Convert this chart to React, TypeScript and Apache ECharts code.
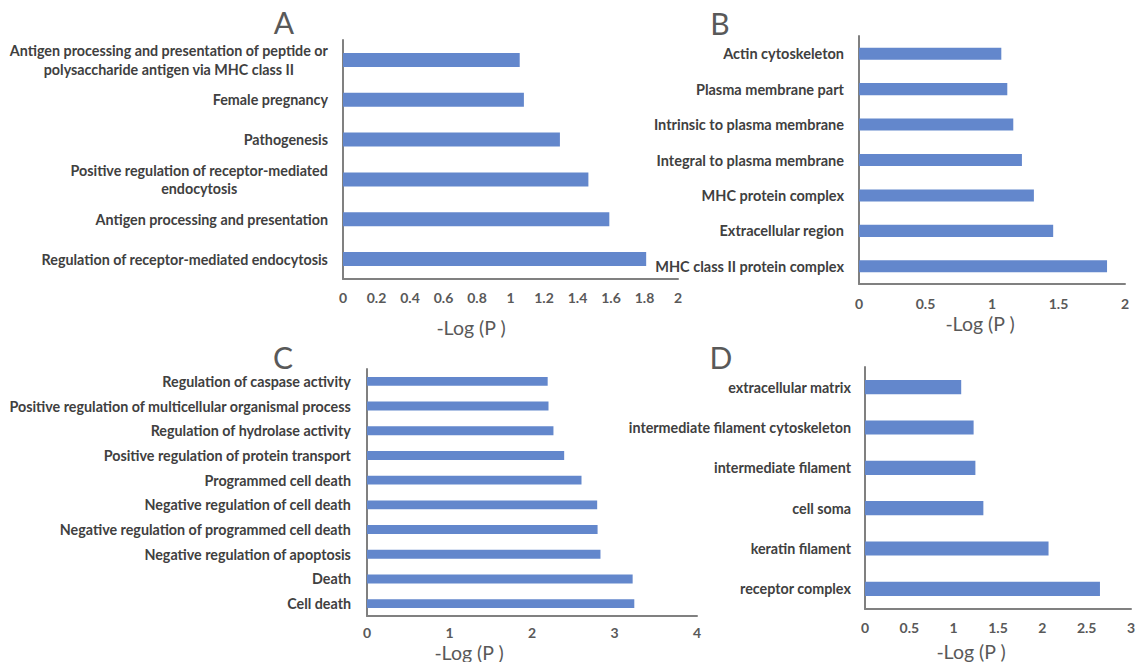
import React, { useEffect, useRef } from "react";
import * as echarts from "echarts";

const catsA = [
  "Antigen processing and presentation of peptide or\npolysaccharide antigen via MHC class II",
  "Female pregnancy",
  "Pathogenesis",
  "Positive regulation of receptor-mediated\nendocytosis",
  "Antigen processing and presentation",
  "Regulation of receptor-mediated endocytosis",
];
const valsA = [1.055, 1.08, 1.295, 1.465, 1.59, 1.81];

const catsB = [
  "Actin cytoskeleton",
  "Plasma membrane part",
  "Intrinsic to plasma membrane",
  "Integral to plasma membrane",
  "MHC protein complex",
  "Extracellular region",
  "MHC class II protein complex",
];
const valsB = [1.07, 1.115, 1.16, 1.225, 1.315, 1.46, 1.865];

const catsC = [
  "Regulation of caspase activity",
  "Positive regulation of multicellular organismal process",
  "Regulation of hydrolase activity",
  "Positive regulation of protein transport",
  "Programmed cell death",
  "Negative regulation of cell death",
  "Negative regulation of programmed cell death",
  "Negative regulation of apoptosis",
  "Death",
  "Cell death",
];
const valsC = [2.19, 2.2, 2.26, 2.39, 2.6, 2.79, 2.795, 2.83, 3.22, 3.24];

const catsD = [
  "extracellular matrix",
  "intermediate filament cytoskeleton",
  "intermediate filament",
  "cell soma",
  "keratin filament",
  "receptor complex",
];
const valsD = [1.085, 1.225, 1.245, 1.335, 2.07, 2.65];

const axisTitle = "-Log (P )";
const panelLetters = ["A", "B", "C", "D"];

const FONT = "Lato, 'Open Sans', sans-serif";
const BAR = "#6387cc";
const AXIS = "#808080";
const TEXT = "#404040";

export default function App() {
  const ref = useRef<HTMLDivElement>(null);
  useEffect(() => {
    if (!ref.current) return;
    const chart = echarts.init(ref.current, null, { renderer: "svg" });

    const grids = [
      { left: 343, top: 40, width: 335, height: 239 },
      { left: 859, top: 36, width: 266, height: 248 },
      { left: 367, top: 369, width: 330, height: 247 },
      { left: 865, top: 367, width: 266, height: 242 },
    ];
    const cats = [catsA, catsB, catsC, catsD];
    const vals = [valsA, valsB, valsC, valsD];
    const maxes = [2, 2, 4, 3];
    const intervals = [0.2, 0.5, 1, 0.5];
    const labelSizes = [14.3, 14.5, 14.3, 14.3];
    const barWidths = ["35%", "34%", "36%", "35%"];
    const labelMargins = [15, 15, 16, 14];
    const tickMargins = [11, 12, 9, 11];

    const mkRich = (i: number) => ({
      c: {
        align: "center",
        fontFamily: FONT,
        fontWeight: "bold",
        fontSize: labelSizes[i],
        color: TEXT,
        lineHeight: 18.5,
      },
    });

    const option: any = {
      animation: false,
      grid: grids.map((g) => ({ ...g, containLabel: false, outerBoundsMode: "none" })),
      xAxis: grids.map((_, i) => ({
        type: "value",
        gridIndex: i,
        min: 0,
        max: maxes[i],
        interval: intervals[i],
        splitLine: { show: false },
        axisTick: { show: false },
        axisLine: { show: true, lineStyle: { color: AXIS, width: 2 } },
        axisLabel: {
          margin: tickMargins[i],
          fontFamily: FONT,
          fontWeight: "bold",
          fontSize: 14,
          color: "#595959",
        },
      })),
      yAxis: grids.map((_, i) => ({
        type: "category",
        gridIndex: i,
        data: cats[i],
        inverse: true,
        axisTick: { show: false },
        axisLine: { show: true, lineStyle: { color: AXIS, width: 2 } },
        axisLabel: {
          margin: labelMargins[i],
          align: "right",
          interval: 0,
          formatter: (v: string) =>
            v
              .split("\n")
              .map((l) => `{c|${l}}`)
              .join("\n"),
          rich: mkRich(i),
        },
      })),
      series: grids.map((_, i) => ({
        type: "bar",
        xAxisIndex: i,
        yAxisIndex: i,
        data: vals[i],
        barWidth: barWidths[i],
        itemStyle: { color: BAR },
      })),
      graphic: [
        ...[
          [471, 327],
          [980, 323],
          [469, 652],
          [971, 651],
        ].map(([x, y]) => ({
          type: "text",
          x,
          y,
          style: {
            text: axisTitle,
            fontFamily: FONT,
            fontSize: 19.5,
            fill: "#595959",
            align: "center",
            verticalAlign: "middle",
          },
        })),
        ...[
          [284, 22],
          [720, 23],
          [283, 357],
          [721, 357],
        ].map(([x, y], i) => ({
          type: "text",
          x,
          y,
          style: {
            text: panelLetters[i],
            fontFamily: FONT,
            fontSize: 30,
            fill: "#595959",
            align: "center",
            verticalAlign: "middle",
          },
        })),
      ],
    };
    chart.setOption(option);
    return () => chart.dispose();
  }, []);
  return (
    <div
      ref={ref}
      style={{ position: "fixed", left: 0, top: 0, width: 1137, height: 662, background: "#fff" }}
    />
  );
}
